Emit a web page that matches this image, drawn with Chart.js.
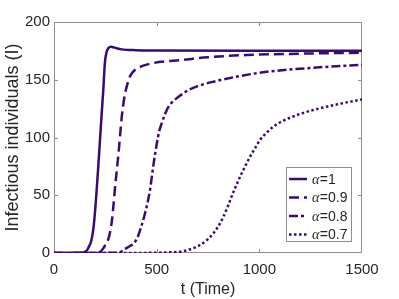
<!DOCTYPE html>
<html>
<head>
<meta charset="utf-8">
<script src="https://cdn.jsdelivr.net/npm/chart.js@4"></script>
<style>
  html, body { margin: 0; padding: 0; background: #fff; }
  #wrap { width: 399px; height: 299px; }
</style>
</head>
<body>
<div id="wrap"><canvas id="chart" width="399" height="299"></canvas></div>
<script>
// Data
const alphaLabels = ['α=1', 'α=0.9', 'α=0.8', 'α=0.7'];

const tAlpha1 = [0, 140, 155, 162, 170, 180, 191, 200, 208, 216, 224, 232, 240, 248, 256, 265, 278, 295, 330, 400, 500, 1000, 1500];
const iAlpha1 = [0, 0.5, 1.5, 2.6, 5.5, 9.5, 20, 36, 55, 76, 98, 120, 141, 165, 174, 177.5, 178.6, 177.8, 176.3, 175.6, 175.4, 175.2, 175.2];

const tAlpha09 = [0, 200, 225, 240, 250, 260, 268, 282, 290, 298, 306, 314, 322, 330, 342, 354, 368, 381, 394, 422, 460, 520, 614, 750, 938, 1200, 1500];
const iAlpha09 = [0, 0, 1, 4, 7, 10, 14, 28, 42, 58, 72, 86, 102, 118, 134, 144, 152, 156, 158.5, 161.3, 163.5, 165.5, 167, 169.5, 171.4, 172.6, 173.4];

const tAlpha08 = [0, 300, 325, 346, 370, 390, 410, 425, 440, 455, 468, 484, 500, 512, 524, 540, 557, 580, 605, 654, 700, 776, 900, 1019, 1263, 1500];
const iAlpha08 = [0, 0.2, 1, 3.5, 6, 8.5, 15, 23, 32, 43, 55, 76, 94, 105, 112, 120, 126.5, 131.5, 135, 141, 144.5, 148.3, 153, 156.5, 160.4, 163];

const tAlpha07 = [0, 450, 550, 614, 660, 711, 750, 776, 800, 825, 850, 873, 895, 914, 935, 955, 980, 1003, 1035, 1068, 1100, 1200, 1300, 1400, 1500];
const iAlpha07 = [0, 0.1, 0.5, 1.1, 3, 6.9, 12, 17, 23, 31.4, 42, 52.5, 61.5, 69, 76.5, 83.4, 91, 97.8, 104, 109.4, 113, 120.5, 125.5, 129.5, 133];

const xTicks = [0, 500, 1000, 1500];
const yTicks = [0, 50, 100, 150, 200];

const lineColor = '#3b0b6e';
const textColor = '#262626';
const frameColor = '#8f8f8f';
const fontFamily = '"Liberation Sans", Arial, Helvetica, sans-serif';

const toPoints = (ts, is) => ts.map((t, k) => ({ x: t, y: is[k] }));

const series = [
    { t: tAlpha1, i: iAlpha1, dash: [] },
    { t: tAlpha09, i: iAlpha09, dash: [10, 5] },
    { t: tAlpha08, i: iAlpha08, dash: [9, 3, 3, 3] },
    { t: tAlpha07, i: iAlpha07, dash: [2.5, 2.5] }
];

// Box around the plot with inward ticks (MATLAB style)
const frameBox = {
    id: 'frameBox',
    beforeDatasetsDraw(chart) {
        const { ctx, chartArea: a, scales } = chart;
        ctx.save();
        ctx.strokeStyle = frameColor;
        ctx.lineWidth = 1;
        ctx.strokeRect(a.left + 0.5, a.top + 0.5, a.right - a.left - 1, a.bottom - a.top - 1);
        const len = 4;
        ctx.beginPath();
        xTicks.slice(1, -1).forEach(v => {
            const px = Math.round(scales.x.getPixelForValue(v)) + 0.5;
            ctx.moveTo(px, a.bottom); ctx.lineTo(px, a.bottom - len);
            ctx.moveTo(px, a.top); ctx.lineTo(px, a.top + len);
        });
        yTicks.slice(1, -1).forEach(v => {
            const py = Math.round(scales.y.getPixelForValue(v)) + 0.5;
            ctx.moveTo(a.left, py); ctx.lineTo(a.left + len, py);
            ctx.moveTo(a.right, py); ctx.lineTo(a.right - len, py);
        });
        ctx.stroke();
        ctx.restore();
    }
};

// Legend box in the lower right of the plot
const innerLegend = {
    id: 'innerLegend',
    afterDraw(chart) {
        const { ctx, chartArea: a } = chart;
        const boxW = 66, boxH = 75;
        const x0 = a.right - 10 - boxW;
        const y0 = a.bottom - 11 - boxH;
        ctx.save();
        ctx.fillStyle = '#fff';
        ctx.fillRect(x0, y0, boxW, boxH);
        ctx.strokeStyle = frameColor;
        ctx.lineWidth = 1;
        ctx.strokeRect(x0 + 0.5, y0 + 0.5, boxW - 1, boxH - 1);
        chart.data.datasets.forEach((ds, k) => {
            const y = y0 + 12 + k * 18.5;
            ctx.strokeStyle = ds.borderColor;
            ctx.lineWidth = ds.borderWidth;
            ctx.setLineDash(ds.borderDash);
            ctx.beginPath();
            ctx.moveTo(x0 + 3, y);
            ctx.lineTo(x0 + 21, y);
            ctx.stroke();
            ctx.setLineDash([]);
            ctx.fillStyle = textColor;
            ctx.textBaseline = 'middle';
            ctx.textAlign = 'left';
            ctx.font = 'italic 14px "Liberation Serif", "Times New Roman", serif';
            const greek = ds.label.charAt(0);
            ctx.fillText(greek, x0 + 26, y + 1);
            const gw = ctx.measureText(greek).width;
            ctx.font = '14px ' + fontFamily;
            ctx.fillText(ds.label.slice(1), x0 + 26 + gw + 0.5, y + 1);
        });
        ctx.restore();
    }
};

const ctx = document.getElementById('chart').getContext('2d');

new Chart(ctx, {
    type: 'line',
    data: {
        datasets: series.map((s, k) => ({
            label: alphaLabels[k],
            data: toPoints(s.t, s.i),
            borderColor: lineColor,
            backgroundColor: lineColor,
            borderWidth: 2.5,
            borderDash: s.dash,
            pointRadius: 0,
            cubicInterpolationMode: 'monotone',
            fill: false
        }))
    },
    options: {
        responsive: false,
        animation: false,
        layout: { padding: { top: 22, right: 37, left: 0, bottom: 0 } },
        plugins: {
            legend: { display: false },
            tooltip: { enabled: false }
        },
        scales: {
            x: {
                type: 'linear',
                min: 0,
                max: 1500,
                afterBuildTicks: scale => { scale.ticks = xTicks.map(v => ({ value: v })); },
                afterFit: scale => { scale.height = 46; },
                grid: { display: false, drawTicks: false },
                border: { display: false },
                ticks: {
                    color: textColor,
                    font: { family: fontFamily, size: 15 },
                    padding: 8,
                    maxRotation: 0,
                    callback: v => String(v)
                },
                title: {
                    display: true,
                    text: 't (Time)',
                    color: textColor,
                    font: { family: fontFamily, size: 16 },
                    padding: { top: 0, bottom: 0 }
                }
            },
            y: {
                min: 0,
                max: 200,
                afterBuildTicks: scale => { scale.ticks = yTicks.map(v => ({ value: v })); },
                afterFit: scale => { scale.width = 54; },
                grid: { display: false, drawTicks: false },
                border: { display: false },
                ticks: {
                    color: textColor,
                    font: { family: fontFamily, size: 15 },
                    padding: 4,
                    callback: v => String(v)
                },
                title: {
                    display: true,
                    text: 'Infectious individuals (I)',
                    color: textColor,
                    font: { family: fontFamily, size: 18 },
                    padding: { top: 2, bottom: 0 }
                }
            }
        }
    },
    plugins: [frameBox, innerLegend]
});
</script>
</body>
</html>
